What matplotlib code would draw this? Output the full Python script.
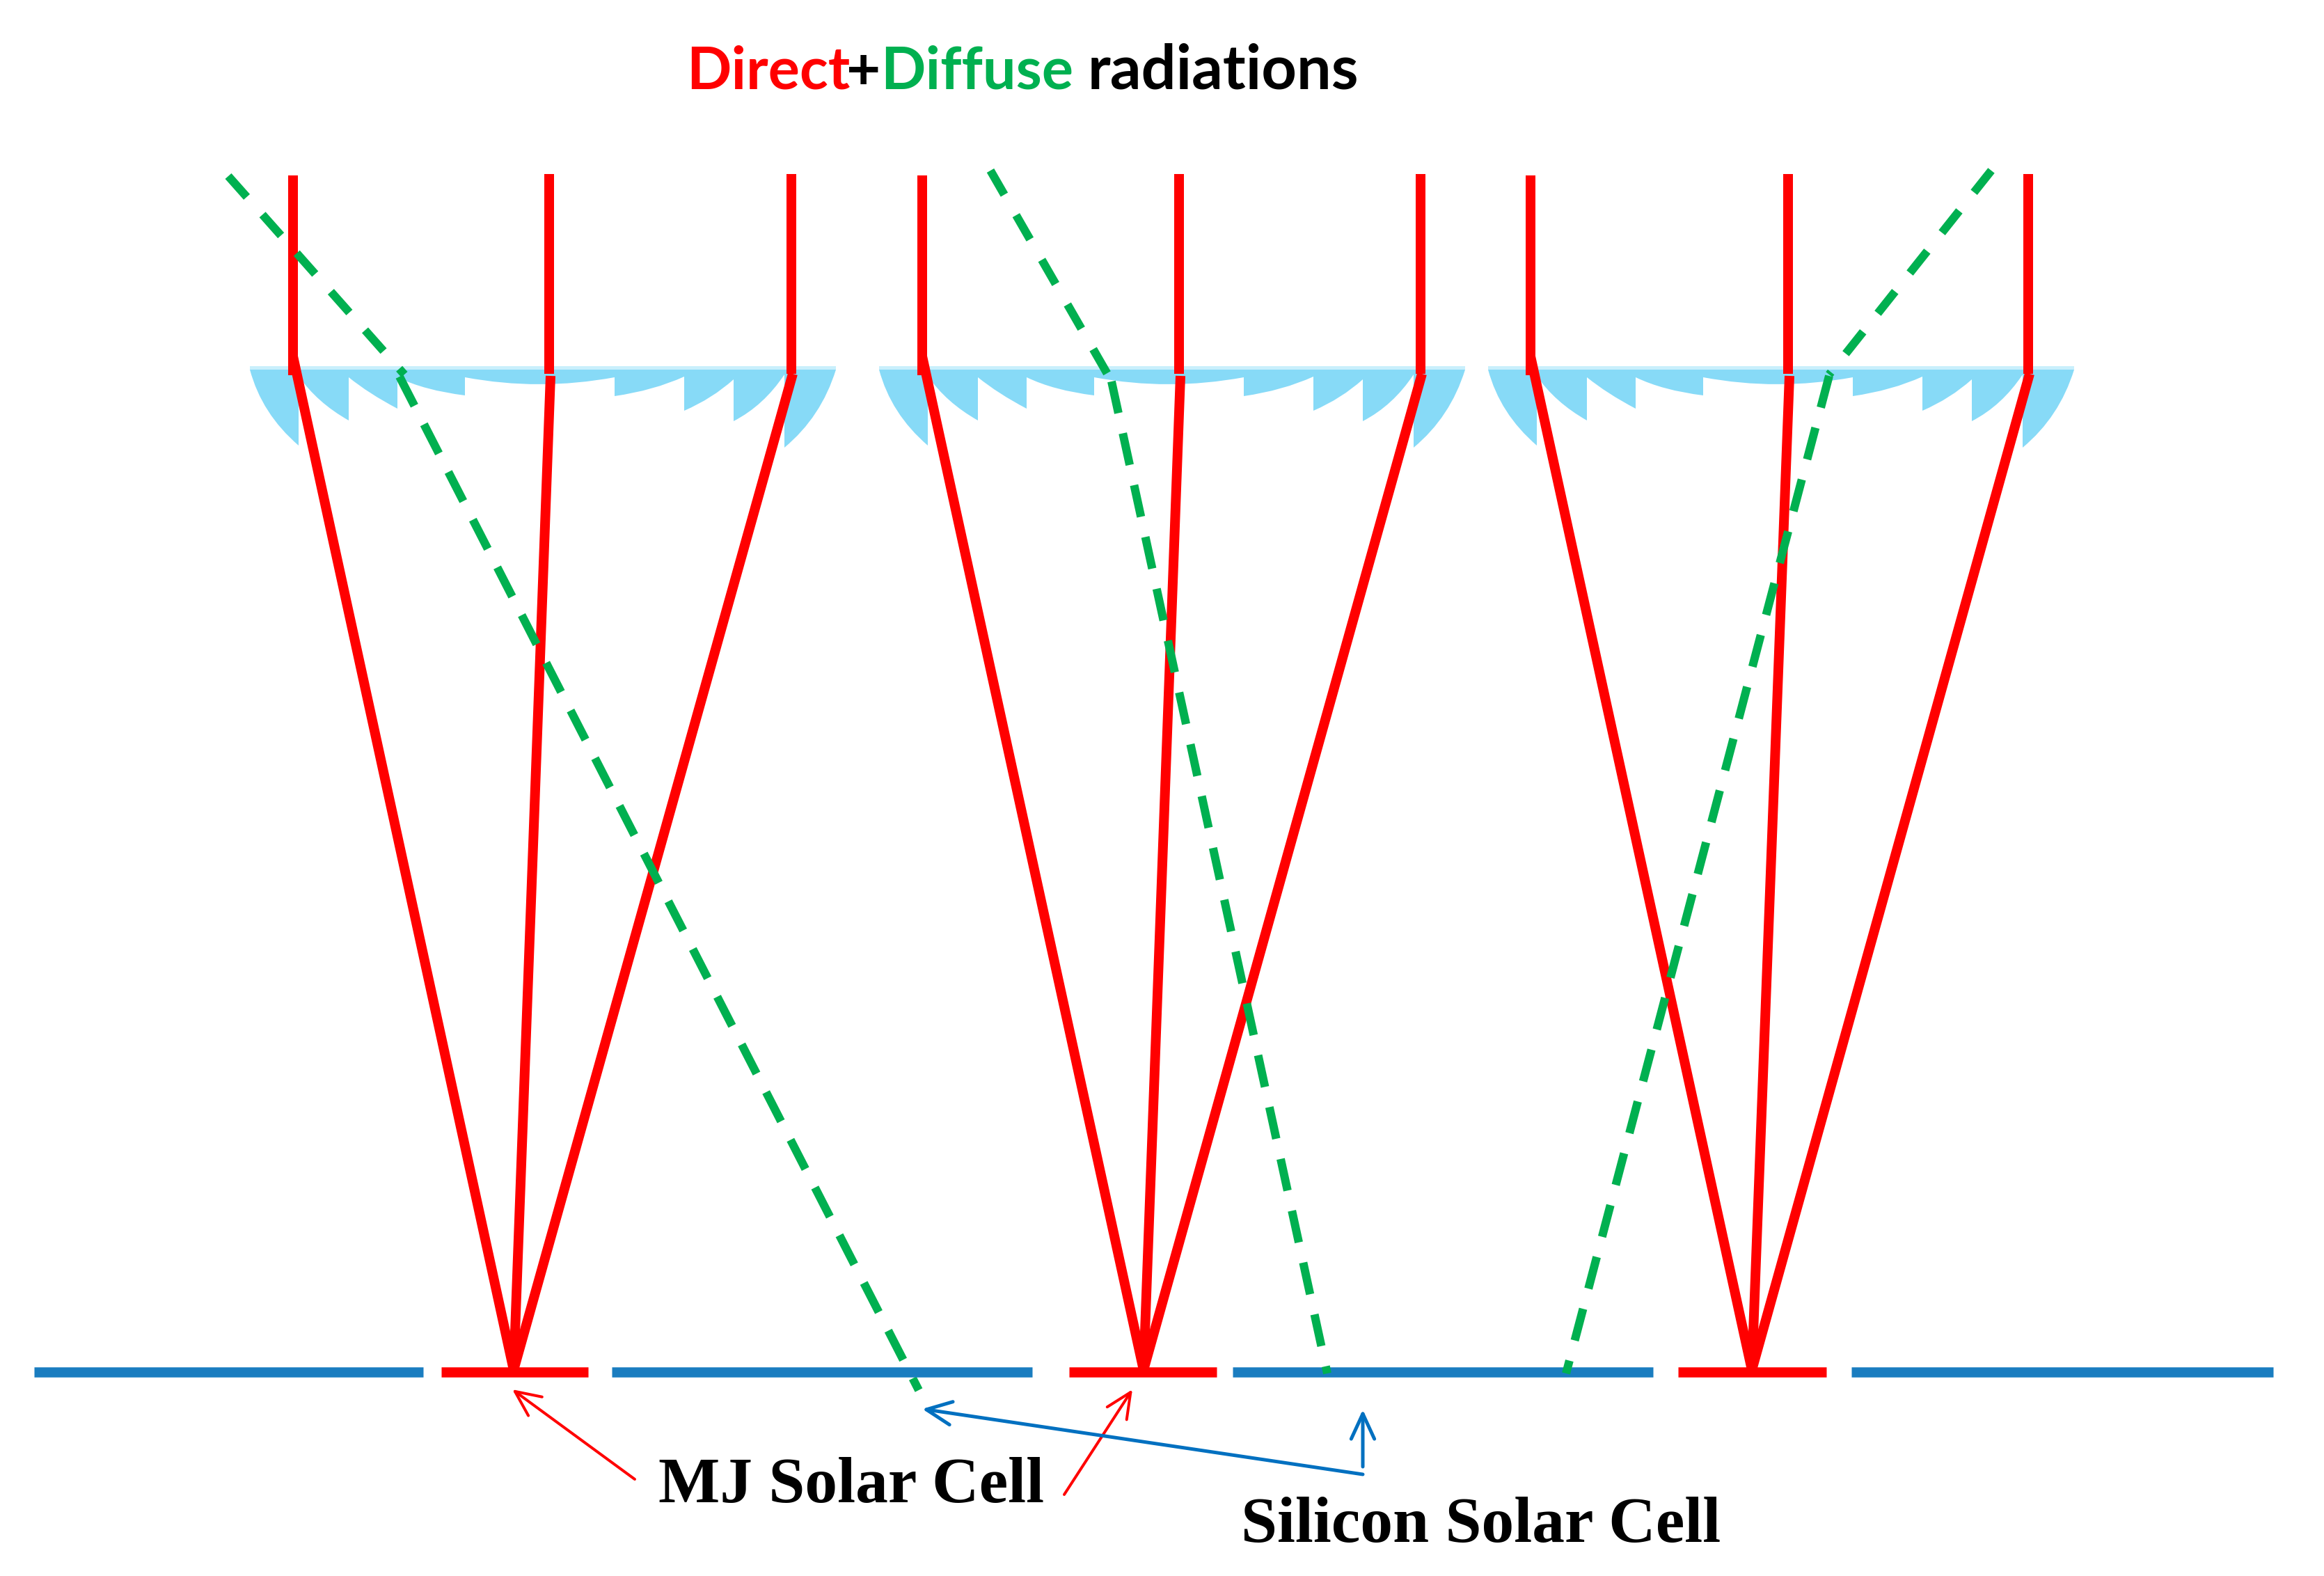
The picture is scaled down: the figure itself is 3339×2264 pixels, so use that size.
import matplotlib
matplotlib.use('Agg')
import matplotlib.pyplot as plt
from matplotlib.path import Path
from matplotlib.patches import PathPatch

W, H = 3339, 2264

# cells along the bottom (left, right) at cell_y
cell_y = 1971
silicon_cells = [(49, 608), (879, 1483), (1771, 2375), (2660, 3266)]
mj_cells = [(634, 845), (1536, 1748), (2411, 2624)]

# direct rays: vertical x, ray start y on the lens, focus x
ray_top = [252, 250, 250]
ray_x = [[421, 789, 1137], [1325, 1694, 2041], [2199, 2569, 2914]]
ray_bend = [512, 540, 537]
focus_x = [738, 1643, 2517]
focus_y = 1968

# diffuse rays, each bends at the lens so the dashes restart there
diffuse_upper_x = [[328, 581], [1423, 1595], [2861, 2628]]
diffuse_upper_y = [[253, 538], [245, 544], [245, 538]]
diffuse_lower_x = [[574, 1320], [1597, 1907], [2628, 2250]]
diffuse_lower_y = [[541, 1997], [548, 1973], [540, 1973]]
upper_dash = [(40, 34), (40, 34), (40, 34)]
lower_dash = [(47, 30), (46.5, 29.7), (47, 30)]

# lens profile of first lens, groups of (start, mid, end) curves joined by straight steps
lens_offsets = [0, 904, 1779]
lens_curves = [
    [(359, 531), (385, 590), (429, 640)],
    [(429, 540), (460, 575), (501, 604)],
    [(501, 542), (533, 565), (571, 587)],
    [(571, 542), (615, 558), (668, 568)],
    [(668, 542), (775, 552), (883, 542)],
    [(883, 569), (936, 558), (983, 541)],
    [(983, 590), (1021, 570), (1054, 545)],
    [(1054, 605), (1094, 577), (1127, 538)],
    [(1127, 643), (1172, 593), (1201, 531)],
]
lens_top = 531
lens_band_top = 526

# annotation arrows: tail, head
red_arrows = [((912, 2125), (736, 1996)), ((1529, 2147), (1627, 1996))]
blue_arrows = [((1958, 2118), (1325, 2024)), ((1958, 2107), (1958, 2025))]

RED = '#ff0000'
GREEN = '#00b050'
BAR_BLUE = '#1a7dc0'
ARROW_BLUE = '#0070c0'
LENS = '#87daf7'
BAND = '#c9effc'

px = 0.72  # points per pixel at dpi 100
green_w = 12

fig = plt.figure(figsize=(W / 100, H / 100), dpi=100)
ax = fig.add_axes([0, 0, 1, 1])
ax.set_xlim(0, W)
ax.set_ylim(H, 0)
ax.axis('off')


def lens_path(dx):
    verts = [(lens_curves[0][0][0] + dx, lens_top)]
    codes = [Path.MOVETO]
    for i, (a, m, b) in enumerate(lens_curves):
        if i > 0:
            verts.append((a[0] + dx, a[1]))
            codes.append(Path.LINETO)
        ctrl = (2 * m[0] - (a[0] + b[0]) / 2 + dx, 2 * m[1] - (a[1] + b[1]) / 2)
        verts += [ctrl, (b[0] + dx, b[1])]
        codes += [Path.CURVE3, Path.CURVE3]
    verts.append((verts[0][0], lens_top))
    codes.append(Path.CLOSEPOLY)
    return Path(verts, codes)


for dx in lens_offsets:
    ax.add_patch(PathPatch(lens_path(dx), fc=LENS, ec='none', zorder=1))
    ax.fill_between([359 + dx, 1201 + dx], lens_band_top, lens_top, color=BAND, lw=0, zorder=1)

# green first one passes under the bar, others stop on top of it
for i in range(3):
    z = 6 if i == 0 else 8
    ax.plot(diffuse_upper_x[i], diffuse_upper_y[i], color=GREEN, lw=green_w * px,
            dashes=(upper_dash[i][0] / green_w, upper_dash[i][1] / green_w),
            dash_capstyle='butt', zorder=z)
    ax.plot(diffuse_lower_x[i], diffuse_lower_y[i], color=GREEN, lw=green_w * px,
            dashes=(lower_dash[i][0] / green_w, lower_dash[i][1] / green_w),
            dash_capstyle='butt', zorder=z)

for a, b in silicon_cells:
    ax.plot([a, b], [cell_y, cell_y], color=BAR_BLUE, lw=14.5 * px, solid_capstyle='butt', zorder=7)
for a, b in mj_cells:
    ax.plot([a, b], [cell_y, cell_y], color=RED, lw=14.5 * px, solid_capstyle='butt', zorder=7)

for g in range(3):
    for k, x in enumerate(ray_x[g]):
        top = ray_top[k]
        # vertical part stops on the lens
        ax.plot([x, x], [top, 537 if k else 539], color=RED, lw=14 * px, solid_capstyle='butt', zorder=5)
        ax.plot([x + (2 if k else 0), focus_x[g]], [ray_bend[k], focus_y], color=RED, lw=14 * px,
                solid_capstyle='butt', zorder=5)

for tail, head in red_arrows:
    ax.annotate('', xy=head, xytext=tail, zorder=9,
                arrowprops=dict(arrowstyle='->,head_length=26,head_width=12', mutation_scale=1,
                                color=RED, lw=4 * px, shrinkA=0, shrinkB=0))
for tail, head in blue_arrows:
    ax.annotate('', xy=head, xytext=tail, zorder=9,
                arrowprops=dict(arrowstyle='->,head_length=26,head_width=12', mutation_scale=1,
                                color=ARROW_BLUE, lw=5 * px, shrinkA=0, shrinkB=0))

# title pieces
title_font = dict(family='Lato', weight='bold', va='baseline', ha='left')
ax.text(986, 128, 'Direct', color=RED, fontsize=61, **title_font)
ax.text(1216, 128, '+', color='black', fontsize=61, **title_font)
ax.text(1265, 128, 'Diffuse', color=GREEN, fontsize=61, **title_font)
ax.text(1563, 128, 'radiations', color='black', fontsize=63.5, **title_font)

label_font = dict(family='Liberation Serif', weight='bold', fontsize=67.3, va='baseline', ha='left', color='black')
ax.text(946, 2158, 'MJ Solar Cell', **label_font)
ax.text(1783, 2215, 'Silicon Solar Cell', **label_font)

fig.savefig('out.png', dpi=100, facecolor='white')
